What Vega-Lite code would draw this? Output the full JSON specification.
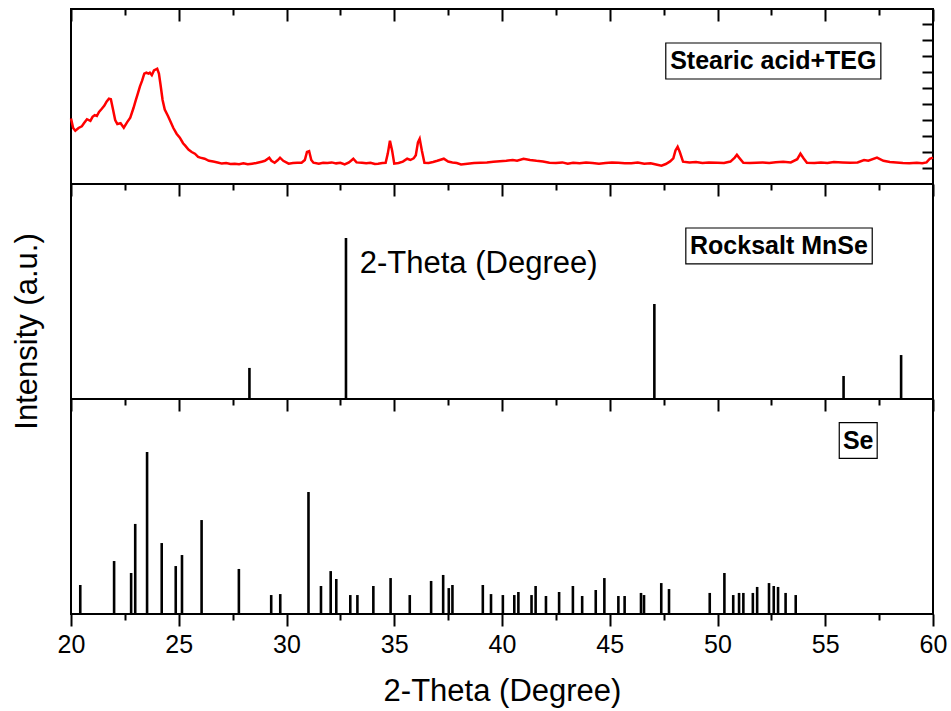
{
  "$schema": "https://vega.github.io/schema/vega-lite/v6.json",
  "padding": {"left": 10, "top": 7, "right": 5, "bottom": 5},
  "spacing": 0,
  "bounds": "flush",
  "config": {
    "view": {"stroke": "black", "strokeWidth": 2},
    "font": "Liberation Sans",
    "axis": {"tickColor": "black", "tickWidth": 2, "domain": false, "grid": false, "labelColor": "black", "titleColor": "black"}
  },
  "datasets": {
    "xrd": [
      {"theta": 20.0, "intensity": 820}, {"theta": 20.1, "intensity": 700}, {"theta": 20.2, "intensity": 666}, {"theta": 20.35, "intensity": 700},
      {"theta": 20.5, "intensity": 720}, {"theta": 20.6, "intensity": 760}, {"theta": 20.74, "intensity": 810}, {"theta": 20.9, "intensity": 790},
      {"theta": 21.0, "intensity": 840}, {"theta": 21.1, "intensity": 860}, {"theta": 21.2, "intensity": 850}, {"theta": 21.3, "intensity": 900},
      {"theta": 21.43, "intensity": 940}, {"theta": 21.55, "intensity": 980}, {"theta": 21.65, "intensity": 1030}, {"theta": 21.76, "intensity": 1066},
      {"theta": 21.85, "intensity": 1060}, {"theta": 21.95, "intensity": 930}, {"theta": 22.05, "intensity": 800}, {"theta": 22.15, "intensity": 750},
      {"theta": 22.3, "intensity": 760}, {"theta": 22.45, "intensity": 704}, {"theta": 22.6, "intensity": 770}, {"theta": 22.75, "intensity": 829},
      {"theta": 22.9, "intensity": 950}, {"theta": 23.0, "intensity": 1041}, {"theta": 23.1, "intensity": 1130}, {"theta": 23.2, "intensity": 1220},
      {"theta": 23.3, "intensity": 1291}, {"theta": 23.4, "intensity": 1380}, {"theta": 23.5, "intensity": 1391}, {"theta": 23.6, "intensity": 1380},
      {"theta": 23.66, "intensity": 1391}, {"theta": 23.75, "intensity": 1360}, {"theta": 23.85, "intensity": 1420}, {"theta": 24.0, "intensity": 1441},
      {"theta": 24.08, "intensity": 1380}, {"theta": 24.15, "intensity": 1250}, {"theta": 24.25, "intensity": 1050}, {"theta": 24.35, "intensity": 930},
      {"theta": 24.5, "intensity": 850}, {"theta": 24.6, "intensity": 790}, {"theta": 24.75, "intensity": 700}, {"theta": 24.9, "intensity": 629},
      {"theta": 25.05, "intensity": 580}, {"theta": 25.2, "intensity": 510}, {"theta": 25.3, "intensity": 479}, {"theta": 25.45, "intensity": 430},
      {"theta": 25.6, "intensity": 400}, {"theta": 25.75, "intensity": 379}, {"theta": 25.9, "intensity": 340}, {"theta": 26.0, "intensity": 330},
      {"theta": 26.2, "intensity": 316}, {"theta": 26.4, "intensity": 290}, {"theta": 26.6, "intensity": 280}, {"theta": 26.85, "intensity": 266},
      {"theta": 27.0, "intensity": 255}, {"theta": 27.2, "intensity": 262}, {"theta": 27.4, "intensity": 250}, {"theta": 27.6, "intensity": 254},
      {"theta": 27.8, "intensity": 248}, {"theta": 28.0, "intensity": 258}, {"theta": 28.2, "intensity": 246}, {"theta": 28.4, "intensity": 254},
      {"theta": 28.6, "intensity": 262}, {"theta": 28.85, "intensity": 279}, {"theta": 29.0, "intensity": 290}, {"theta": 29.2, "intensity": 329},
      {"theta": 29.3, "intensity": 290}, {"theta": 29.45, "intensity": 266}, {"theta": 29.6, "intensity": 300}, {"theta": 29.7, "intensity": 329},
      {"theta": 29.85, "intensity": 290}, {"theta": 30.1, "intensity": 254}, {"theta": 30.3, "intensity": 262}, {"theta": 30.5, "intensity": 266},
      {"theta": 30.7, "intensity": 266}, {"theta": 30.85, "intensity": 300}, {"theta": 30.95, "intensity": 400}, {"theta": 31.05, "intensity": 410},
      {"theta": 31.15, "intensity": 300}, {"theta": 31.25, "intensity": 266}, {"theta": 31.5, "intensity": 254}, {"theta": 31.7, "intensity": 266},
      {"theta": 31.9, "intensity": 262}, {"theta": 32.1, "intensity": 270}, {"theta": 32.3, "intensity": 258}, {"theta": 32.5, "intensity": 266},
      {"theta": 32.7, "intensity": 244}, {"theta": 32.9, "intensity": 270}, {"theta": 33.1, "intensity": 316}, {"theta": 33.25, "intensity": 270},
      {"theta": 33.5, "intensity": 266}, {"theta": 33.7, "intensity": 258}, {"theta": 33.9, "intensity": 266}, {"theta": 34.1, "intensity": 250},
      {"theta": 34.25, "intensity": 254}, {"theta": 34.45, "intensity": 262}, {"theta": 34.6, "intensity": 266}, {"theta": 34.7, "intensity": 380},
      {"theta": 34.8, "intensity": 541}, {"theta": 34.9, "intensity": 420}, {"theta": 35.0, "intensity": 254}, {"theta": 35.2, "intensity": 262},
      {"theta": 35.4, "intensity": 280}, {"theta": 35.6, "intensity": 316}, {"theta": 35.75, "intensity": 300}, {"theta": 35.9, "intensity": 320},
      {"theta": 36.0, "intensity": 360}, {"theta": 36.1, "intensity": 520}, {"theta": 36.18, "intensity": 566}, {"theta": 36.28, "intensity": 420},
      {"theta": 36.4, "intensity": 266}, {"theta": 36.6, "intensity": 262}, {"theta": 36.8, "intensity": 275}, {"theta": 37.0, "intensity": 290},
      {"theta": 37.3, "intensity": 316}, {"theta": 37.5, "intensity": 280}, {"theta": 37.7, "intensity": 270}, {"theta": 37.9, "intensity": 262},
      {"theta": 38.1, "intensity": 245}, {"theta": 38.4, "intensity": 254}, {"theta": 38.7, "intensity": 262}, {"theta": 39.0, "intensity": 266},
      {"theta": 39.3, "intensity": 270}, {"theta": 39.6, "intensity": 279}, {"theta": 39.9, "intensity": 285}, {"theta": 40.2, "intensity": 290},
      {"theta": 40.5, "intensity": 300}, {"theta": 40.7, "intensity": 291}, {"theta": 41.0, "intensity": 316}, {"theta": 41.3, "intensity": 300},
      {"theta": 41.6, "intensity": 290}, {"theta": 41.9, "intensity": 282}, {"theta": 42.2, "intensity": 266}, {"theta": 42.5, "intensity": 262},
      {"theta": 42.8, "intensity": 270}, {"theta": 43.05, "intensity": 254}, {"theta": 43.3, "intensity": 266}, {"theta": 43.6, "intensity": 258},
      {"theta": 43.9, "intensity": 270}, {"theta": 44.2, "intensity": 262}, {"theta": 44.5, "intensity": 254}, {"theta": 44.8, "intensity": 262},
      {"theta": 45.1, "intensity": 270}, {"theta": 45.4, "intensity": 266}, {"theta": 45.7, "intensity": 258}, {"theta": 46.0, "intensity": 260},
      {"theta": 46.3, "intensity": 270}, {"theta": 46.6, "intensity": 254}, {"theta": 46.9, "intensity": 258}, {"theta": 47.2, "intensity": 240},
      {"theta": 47.4, "intensity": 229}, {"theta": 47.6, "intensity": 250}, {"theta": 47.8, "intensity": 282}, {"theta": 47.95, "intensity": 320},
      {"theta": 48.05, "intensity": 420}, {"theta": 48.15, "intensity": 466}, {"theta": 48.25, "intensity": 400}, {"theta": 48.4, "intensity": 279},
      {"theta": 48.7, "intensity": 270}, {"theta": 49.0, "intensity": 274}, {"theta": 49.3, "intensity": 262}, {"theta": 49.6, "intensity": 268},
      {"theta": 50.0, "intensity": 266}, {"theta": 50.3, "intensity": 264}, {"theta": 50.6, "intensity": 280}, {"theta": 50.8, "intensity": 330},
      {"theta": 50.9, "intensity": 366}, {"theta": 51.0, "intensity": 330}, {"theta": 51.2, "intensity": 266}, {"theta": 51.5, "intensity": 262},
      {"theta": 51.8, "intensity": 266}, {"theta": 52.1, "intensity": 270}, {"theta": 52.4, "intensity": 264}, {"theta": 52.7, "intensity": 272},
      {"theta": 53.05, "intensity": 279}, {"theta": 53.4, "intensity": 270}, {"theta": 53.7, "intensity": 310}, {"theta": 53.85, "intensity": 379},
      {"theta": 54.0, "intensity": 320}, {"theta": 54.15, "intensity": 266}, {"theta": 54.5, "intensity": 262}, {"theta": 54.8, "intensity": 270},
      {"theta": 55.1, "intensity": 262}, {"theta": 55.4, "intensity": 275}, {"theta": 55.8, "intensity": 270}, {"theta": 56.15, "intensity": 266},
      {"theta": 56.5, "intensity": 270}, {"theta": 56.8, "intensity": 300}, {"theta": 57.0, "intensity": 290}, {"theta": 57.4, "intensity": 329},
      {"theta": 57.7, "intensity": 290}, {"theta": 58.0, "intensity": 275}, {"theta": 58.3, "intensity": 270}, {"theta": 58.6, "intensity": 262},
      {"theta": 58.9, "intensity": 258}, {"theta": 59.25, "intensity": 266}, {"theta": 59.5, "intensity": 260}, {"theta": 59.7, "intensity": 270},
      {"theta": 59.85, "intensity": 316}, {"theta": 60.0, "intensity": 330}
    ],
    "mnse": [
      {"theta": 28.28, "intensity": 19.3}, {"theta": 32.76, "intensity": 100}, {"theta": 47.07, "intensity": 59.0},
      {"theta": 55.85, "intensity": 14.3}, {"theta": 58.52, "intensity": 27.3}
    ],
    "se": [
      {"theta": 20.43, "intensity": 17.9}, {"theta": 22.0, "intensity": 32.7}, {"theta": 22.79, "intensity": 25.3}, {"theta": 22.98, "intensity": 55.6},
      {"theta": 23.53, "intensity": 100}, {"theta": 24.21, "intensity": 43.8}, {"theta": 24.86, "intensity": 29.6}, {"theta": 25.15, "intensity": 36.4},
      {"theta": 26.06, "intensity": 58.0}, {"theta": 27.79, "intensity": 27.8}, {"theta": 29.29, "intensity": 11.7}, {"theta": 29.71, "intensity": 12.3},
      {"theta": 31.02, "intensity": 75.3}, {"theta": 31.6, "intensity": 17.3}, {"theta": 32.05, "intensity": 26.5}, {"theta": 32.31, "intensity": 21.6},
      {"theta": 32.96, "intensity": 11.7}, {"theta": 33.29, "intensity": 11.7}, {"theta": 34.03, "intensity": 17.3}, {"theta": 34.83, "intensity": 22.2},
      {"theta": 35.72, "intensity": 11.7}, {"theta": 36.71, "intensity": 20.4}, {"theta": 37.27, "intensity": 24.1}, {"theta": 37.53, "intensity": 16.0},
      {"theta": 37.7, "intensity": 17.9}, {"theta": 39.11, "intensity": 17.9}, {"theta": 39.49, "intensity": 12.3}, {"theta": 40.04, "intensity": 11.7},
      {"theta": 40.57, "intensity": 11.7}, {"theta": 40.76, "intensity": 13.6}, {"theta": 41.37, "intensity": 11.7}, {"theta": 41.56, "intensity": 17.3},
      {"theta": 42.04, "intensity": 11.1}, {"theta": 42.65, "intensity": 13.6}, {"theta": 43.29, "intensity": 17.3}, {"theta": 43.72, "intensity": 11.1},
      {"theta": 44.35, "intensity": 14.8}, {"theta": 44.75, "intensity": 22.2}, {"theta": 45.4, "intensity": 11.1}, {"theta": 45.69, "intensity": 11.1},
      {"theta": 46.45, "intensity": 13.0}, {"theta": 46.59, "intensity": 11.7}, {"theta": 47.39, "intensity": 19.1}, {"theta": 47.75, "intensity": 15.4},
      {"theta": 49.64, "intensity": 13.0}, {"theta": 50.32, "intensity": 25.3}, {"theta": 50.73, "intensity": 11.7}, {"theta": 51.0, "intensity": 13.0},
      {"theta": 51.2, "intensity": 13.0}, {"theta": 51.64, "intensity": 13.0}, {"theta": 51.84, "intensity": 16.7}, {"theta": 52.39, "intensity": 19.1},
      {"theta": 52.61, "intensity": 17.3}, {"theta": 52.81, "intensity": 16.7}, {"theta": 53.16, "intensity": 13.0}, {"theta": 53.63, "intensity": 11.7}
    ],
    "box_top": [{"x1": 47.60, "x2": 57.58, "y1": 1312.5, "y2": 1762.5, "label": "Stearic acid+TEG", "tx": 52.59, "ty": 1537.5}],
    "box_mid": [{"x1": 48.53, "x2": 57.18, "y1": 83.9, "y2": 106.2, "label": "Rocksalt MnSe", "tx": 52.85, "ty": 95.0}],
    "note_mid": [{"tx": 33.40, "ty": 78.4, "label": "2-Theta (Degree)"}],
    "box_bot": [{"x1": 55.65, "x2": 57.41, "y1": 96.1, "y2": 118.1, "label": "Se", "tx": 56.53, "ty": 107.1}]
  },
  "vconcat": [
    {
      "width": 862,
      "height": 175,
      "resolve": {"axis": {"x": "independent", "y": "independent"}},
      "layer": [
        {
          "data": {"name": "xrd"},
          "mark": {"type": "line", "color": "#ff0000", "strokeWidth": 2.5},
          "encoding": {
            "x": {"field": "theta", "type": "quantitative", "scale": {"domain": [20, 60], "nice": false},
              "axis": {"orient": "top", "values": [20, 22.5, 25, 27.5, 30, 32.5, 35, 37.5, 40, 42.5, 45, 47.5, 50, 52.5, 55, 57.5, 60],
                "labels": false, "title": null, "tickSize": {"condition": {"test": "datum.value % 5 === 0", "value": -12}, "value": -6}}},
            "y": {"field": "intensity", "type": "quantitative", "scale": {"domain": [0, 2187.5], "nice": false, "zero": false},
              "axis": {"orient": "right", "values": [200, 400, 600, 800, 1000, 1200, 1400, 1600, 1800, 2000], "labels": false, "title": null, "tickSize": -11}}
          }
        },
        {
          "data": {"name": "box_top"},
          "mark": {"type": "rect", "fill": "white", "stroke": "black", "strokeWidth": 1.2},
          "encoding": {
            "x": {"field": "x1", "type": "quantitative", "axis": null},
            "x2": {"field": "x2"},
            "y": {"field": "y1", "type": "quantitative", "axis": null},
            "y2": {"field": "y2"}
          }
        },
        {
          "data": {"name": "box_top"},
          "mark": {"type": "text", "fontSize": 25, "fontWeight": "bold", "color": "black", "align": "center", "baseline": "middle"},
          "encoding": {
            "x": {"field": "tx", "type": "quantitative", "axis": null},
            "y": {"field": "ty", "type": "quantitative", "axis": null},
            "text": {"field": "label"}
          }
        }
      ]
    },
    {
      "width": 862,
      "height": 215,
      "resolve": {"axis": {"x": "independent", "y": "independent"}},
      "layer": [
        {
          "data": {"name": "mnse"},
          "mark": {"type": "rule", "color": "black", "strokeWidth": 2.6},
          "encoding": {
            "x": {"field": "theta", "type": "quantitative", "scale": {"domain": [20, 60], "nice": false},
              "axis": {"orient": "top", "values": [20, 22.5, 25, 27.5, 30, 32.5, 35, 37.5, 40, 42.5, 45, 47.5, 50, 52.5, 55, 57.5, 60],
                "labels": false, "title": null, "tickSize": {"condition": {"test": "datum.value % 5 === 0", "value": -12}, "value": -6}}},
            "y": {"field": "intensity", "type": "quantitative", "scale": {"domain": [0, 133.54], "nice": false, "zero": false},
              "axis": {"orient": "left", "labels": false, "ticks": false, "title": "Intensity (a.u.)", "titleFontSize": 31, "titleFontWeight": "normal", "titlePadding": 28, "titleY": 147}},
            "y2": {"datum": 0}
          }
        },
        {
          "data": {"name": "box_mid"},
          "mark": {"type": "rect", "fill": "white", "stroke": "black", "strokeWidth": 1.2},
          "encoding": {
            "x": {"field": "x1", "type": "quantitative", "axis": null},
            "x2": {"field": "x2"},
            "y": {"field": "y1", "type": "quantitative", "axis": null},
            "y2": {"field": "y2"}
          }
        },
        {
          "data": {"name": "box_mid"},
          "mark": {"type": "text", "fontSize": 25, "fontWeight": "bold", "color": "black", "align": "center", "baseline": "middle"},
          "encoding": {
            "x": {"field": "tx", "type": "quantitative", "axis": null},
            "y": {"field": "ty", "type": "quantitative", "axis": null},
            "text": {"field": "label"}
          }
        },
        {
          "data": {"name": "note_mid"},
          "mark": {"type": "text", "fontSize": 31, "color": "black", "align": "left", "baseline": "alphabetic"},
          "encoding": {
            "x": {"field": "tx", "type": "quantitative", "axis": null},
            "y": {"field": "ty", "type": "quantitative", "axis": null},
            "text": {"field": "label"}
          }
        }
      ]
    },
    {
      "width": 862,
      "height": 215,
      "resolve": {"axis": {"x": "independent", "y": "independent"}},
      "layer": [
        {
          "data": {"name": "se"},
          "mark": {"type": "rule", "color": "black", "strokeWidth": 2.6},
          "encoding": {
            "x": {"field": "theta", "type": "quantitative", "scale": {"domain": [20, 60], "nice": false},
              "axis": {"orient": "top", "values": [20, 22.5, 25, 27.5, 30, 32.5, 35, 37.5, 40, 42.5, 45, 47.5, 50, 52.5, 55, 57.5, 60],
                "labels": false, "title": null, "tickSize": {"condition": {"test": "datum.value % 5 === 0", "value": -12}, "value": -6}}},
            "y": {"field": "intensity", "type": "quantitative", "scale": {"domain": [0, 132.72], "nice": false, "zero": false}, "axis": null},
            "y2": {"datum": 0}
          }
        },
        {
          "data": {"name": "box_bot"},
          "mark": {"type": "rect", "fill": "white", "stroke": "black", "strokeWidth": 1.2},
          "encoding": {
            "x": {"field": "x1", "type": "quantitative", "scale": {"domain": [20, 60], "nice": false},
              "axis": {"orient": "bottom", "values": [20, 22.5, 25, 27.5, 30, 32.5, 35, 37.5, 40, 42.5, 45, 47.5, 50, 52.5, 55, 57.5, 60],
                "labelExpr": "datum.value % 5 === 0 ? datum.label : ''", "labelFontSize": 25, "labelPadding": 6, "labelFlush": false, "labelOverlap": false,
                "title": "2-Theta (Degree)", "titleFontSize": 31, "titleFontWeight": "normal", "titlePadding": 19,
                "tickSize": {"condition": {"test": "datum.value % 5 === 0", "value": 12}, "value": 6}}},
            "x2": {"field": "x2"},
            "y": {"field": "y1", "type": "quantitative", "axis": null},
            "y2": {"field": "y2"}
          }
        },
        {
          "data": {"name": "box_bot"},
          "mark": {"type": "text", "fontSize": 25, "fontWeight": "bold", "color": "black", "align": "center", "baseline": "middle"},
          "encoding": {
            "x": {"field": "tx", "type": "quantitative", "axis": null},
            "y": {"field": "ty", "type": "quantitative", "axis": null},
            "text": {"field": "label"}
          }
        }
      ]
    }
  ]
}
